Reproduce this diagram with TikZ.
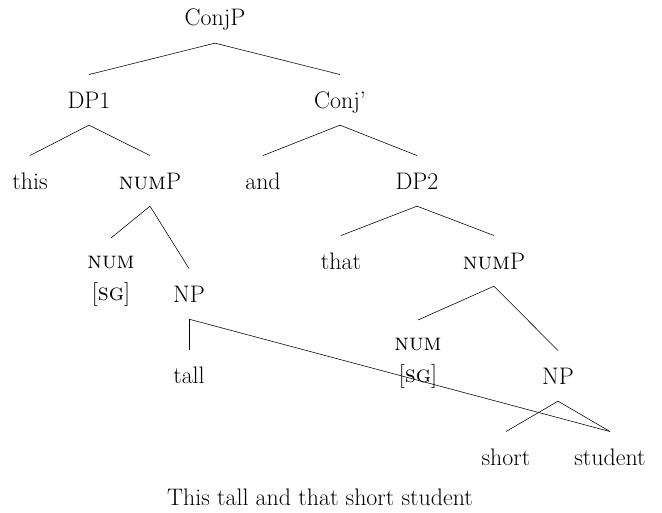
\documentclass[tikz,border=0pt]{standalone}
\usepackage{tikz}
\newcommand{\numf}{\textsc{num}}
\newcommand{\sgf}{[\textsc{sg}]}

\begin{document}
\begin{tikzpicture}[x=0.025cm,y=-0.025cm,
  every node/.style={font=\fontsize{17}{22.8}\selectfont},
  cat/.style={anchor=base,text height=11.6pt,text depth=0pt,inner xsep=0pt,inner ysep=12pt},
  feat/.style={anchor=north,align=center,inner xsep=0pt,inner ysep=13pt}]
\useasboundingbox (0,0) rectangle (662,512);
\node[cat] (CP) at (215,26) {ConjP};
\node[cat] (DP1) at (89,108) {DP1};
\node[cat] (Cbar) at (340,108) {Conj'};
\node[cat] (this) at (30,189) {this};
\node[cat] (NumP1) at (150,189) {\numf P};
\node[cat] (and) at (263,189) {and};
\node[cat] (DP2) at (417,189) {DP2};
\node[feat] (Num1) at (111,238) {\numf\\\sgf};
\node[cat] (NP1) at (189,302) {NP};
\node[cat] (that) at (341,269) {that};
\node[cat] (NumP2) at (494,269) {\numf P};
\node[feat] (Num2) at (418,320) {\numf\\\sgf};
\node[cat] (NP2) at (558,384) {NP};
\node[cat] (tall) at (189,383) {tall};
\node[cat] (short) at (506,465) {short};
\node[cat] (student) at (610,465) {student};
\node[anchor=base] (S) at (320,505) {This tall and that short student};
\draw (CP.south) -- (DP1.north);
\draw (CP.south) -- (Cbar.north);
\draw (DP1.south) -- (this.north);
\draw (DP1.south) -- (NumP1.north);
\draw (Cbar.south) -- (and.north);
\draw (Cbar.south) -- (DP2.north);
\draw (NumP1.south) -- (Num1.north);
\draw (NumP1.south) -- (NP1.north);
\draw (DP2.south) -- (that.north);
\draw (DP2.south) -- (NumP2.north);
\draw (NumP2.south) -- (Num2.north);
\draw (NumP2.south) -- (NP2.north);
\draw (NP1.south) -- (tall.north);
\draw (NP1.south) -- (student.north);
\draw (NP2.south) -- (short.north);
\draw (NP2.south) -- (student.north);
\end{tikzpicture}
\end{document}
